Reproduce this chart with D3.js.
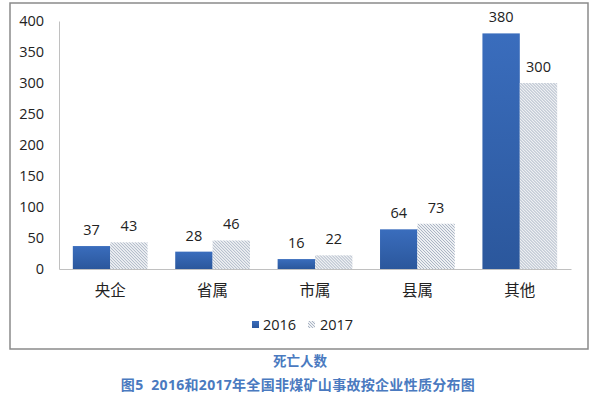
<!DOCTYPE html>
<html><head><meta charset="utf-8">
<script src="https://cdn.jsdelivr.net/npm/d3@7"></script>
<style>body{margin:0;background:#fff}svg{display:block}</style>
</head><body>
<script>
const categories = ["央企","省属","市属","县属","其他"];
const series2016 = [37,28,16,64,380];
const series2017 = [43,46,22,73,300];
const yTicks = [0,50,100,150,200,250,300,350,400];
const seriesNames = ["2016","2017"];

const W=606,H=399;
const svg=d3.select("body").append("svg").attr("width",W).attr("height",H);
const font="'Open Sans','Noto Sans CJK SC',sans-serif";
const defs=svg.append("defs");
const g=defs.append("linearGradient").attr("id","blueg").attr("x1",0).attr("y1",0).attr("x2",0).attr("y2",1);
g.append("stop").attr("offset","0%").attr("stop-color","#3a6dbd");
g.append("stop").attr("offset","100%").attr("stop-color","#2b579c");
const p=defs.append("pattern").attr("id","hatch").attr("patternUnits","userSpaceOnUse").attr("width",3).attr("height",3);
p.append("rect").attr("width",3).attr("height",3).attr("fill","#eef0f3");
p.append("path").attr("d","M-1,-1 L4,4 M2,-1 L4,1 M-1,2 L1,4").attr("stroke","#97a5b8").attr("stroke-width",0.8);

// frame
svg.append("rect").attr("x",10).attr("y",3).attr("width",578).attr("height",346)
  .attr("fill","#fff").attr("stroke","#8a8a8a").attr("stroke-width",1.5);

const x0=d3.scaleBand().domain(categories).range([59,571]).paddingInner(0.27).paddingOuter(0.135);
const x1=d3.scaleBand().domain(seriesNames).range([0,x0.bandwidth()]);
const y=d3.scaleLinear().domain([0,400]).range([269,21]);

// y axis
const ya=svg.append("g").attr("transform","translate(59,0)").call(d3.axisLeft(y).tickValues(yTicks).tickSize(0).tickPadding(15));
ya.select(".domain").attr("stroke","#c0c0c0");
ya.selectAll("text").attr("font-family",font).attr("font-size",14.5).attr("fill","#222");
// x axis
const xa=svg.append("g").attr("transform","translate(0,269)").call(d3.axisBottom(x0).tickSize(0).tickPadding(16));
xa.select(".domain").attr("stroke","#c0c0c0");
xa.selectAll("text").attr("font-family",font).attr("font-size",15.5).attr("fill","#222");

const data=categories.map((c,i)=>({c,vals:[{s:"2016",v:series2016[i]},{s:"2017",v:series2017[i]}]}));
const grp=svg.selectAll(".grp").data(data).enter().append("g").attr("transform",d=>`translate(${x0(d.c)},0)`);
grp.selectAll("rect").data(d=>d.vals).enter().append("rect")
  .attr("x",d=>x1(d.s)).attr("width",x1.bandwidth())
  .attr("y",d=>y(d.v)).attr("height",d=>y(0)-y(d.v))
  .attr("fill",d=>d.s==="2016"?"url(#blueg)":"url(#hatch)");
grp.selectAll("text").data(d=>d.vals).enter().append("text")
  .attr("x",d=>x1(d.s)+x1.bandwidth()/2).attr("y",d=>y(d.v)-11)
  .attr("text-anchor","middle").attr("font-family",font).attr("font-size",14.5).attr("fill","#222")
  .text(d=>d.v);

// legend
const lg=svg.append("g");
lg.append("rect").attr("x",252).attr("y",321).attr("width",7).attr("height",7).attr("fill","url(#blueg)");
lg.append("text").attr("x",263).attr("y",330).attr("font-family",font).attr("font-size",14.5).attr("fill","#222").text(seriesNames[0]);
lg.append("rect").attr("x",308).attr("y",321).attr("width",7).attr("height",7).attr("fill","url(#hatch)");
lg.append("text").attr("x",320).attr("y",330).attr("font-family",font).attr("font-size",14.5).attr("fill","#222").text(seriesNames[1]);

// captions
svg.append("text").attr("x",300).attr("y",366).attr("text-anchor","middle").attr("font-family",font)
  .attr("font-weight","bold").attr("font-size",13.5).attr("fill","#4a7ac0").text("死亡人数");
svg.append("text").attr("x",298).attr("y",390).attr("text-anchor","middle").attr("font-family",font)
  .attr("font-weight","bold").attr("font-size",14).attr("fill","#4a7ac0").attr("letter-spacing",0.3)
  .text("图5\u00a0\u00a02016和2017年全国非煤矿山事故按企业性质分布图");
</script>
</body></html>
